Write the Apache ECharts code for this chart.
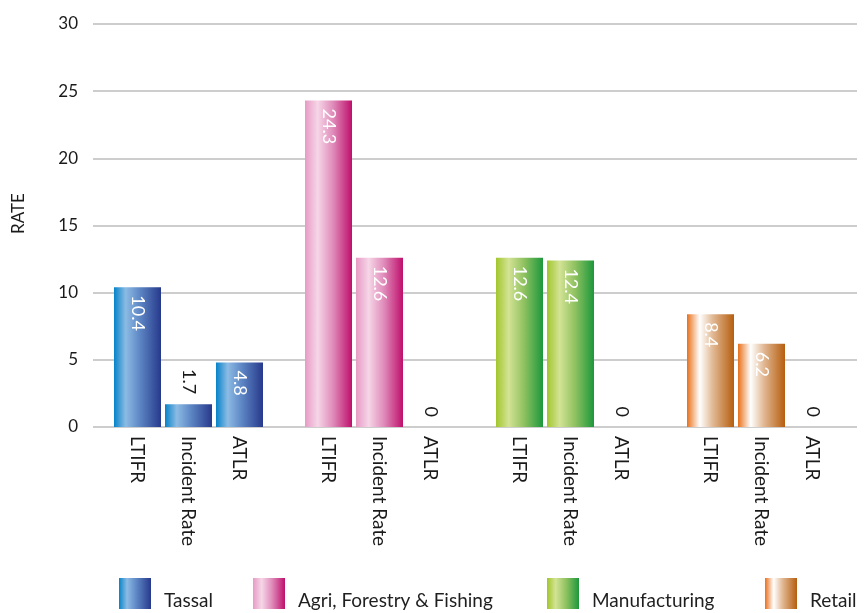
<!DOCTYPE html>
<html>
<head>
<meta charset="utf-8">
<script src="https://cdn.jsdelivr.net/npm/echarts@6/dist/echarts.min.js"></script>
<style>
  html, body { margin: 0; padding: 0; background: #ffffff; }
  #chart { width: 866px; height: 613px; }
</style>
</head>
<body>
<div id="chart"></div>
<script>
// Industry groups (legend) and the three safety metrics shown in each group
var groups = ['Tassal', 'Agri, Forestry & Fishing', 'Manufacturing', 'Retail'];
var metrics = ['LTIFR', 'Incident Rate', 'ATLR'];

// Rates per group, in metric order
var tassal = [10.4, 1.7, 4.8];
var agriForestryFishing = [24.3, 12.6, 0];
var manufacturing = [12.6, 12.4, 0];
var retail = [8.4, 6.2, 0];

// Y axis ticks
var yMin = 0, yMax = 30, yStep = 5;

var groupValues = [tassal, agriForestryFishing, manufacturing, retail];

// Horizontal gradient for each group (bright edge, light sheen, dark edge)
var gradientStops = [
  [['#0683c9', 0], ['#8cbbe4', 0.25], ['#5d86c4', 0.55], ['#27398c', 1]],
  [['#e79ac5', 0], ['#f6d6e7', 0.27], ['#df8ab9', 0.6], ['#bf0f6c', 1]],
  [['#a2c62c', 0], ['#d3e395', 0.27], ['#8fc160', 0.6], ['#1c983c', 1]],
  [['#e8701a', 0], ['#ffffff', 0.27], ['#e1b894', 0.55], ['#b65e0e', 1]]
];
function makeGradient(stops) {
  return new echarts.graphic.LinearGradient(0, 0, 1, 0,
    stops.map(function (s) { return { offset: s[1], color: s[0] }; }));
}

var FONT = 'Lato, "Open Sans", sans-serif';
var BAR_FRAC = 47 / 191;   // bar width as share of a group's band
var PITCH_FRAC = 51 / 191; // distance between neighbouring bars in a group

function renderBar(params, api) {
  var g = api.value(0), m = api.value(1), v = api.value(2);
  var base = api.coord([g, 0]);
  var top = api.coord([g, v]);
  var band = api.size([1, 0])[0];
  var w = band * BAR_FRAC;
  var cx = base[0] + (m - 1) * band * PITCH_FRAC;
  var h = base[1] - top[1];
  var label = String(v);
  var inside = h > 50;
  var children = [{
    type: 'rect',
    shape: { x: cx - w / 2, y: top[1], width: w, height: h },
    style: { fill: makeGradient(gradientStops[g]) }
  }, {
    type: 'text',
    x: cx,
    y: inside ? top[1] + 8 : top[1] - 10,
    rotation: -Math.PI / 2,
    style: {
      text: label,
      fill: inside ? '#ffffff' : '#1a1a1a',
      font: '18px ' + FONT,
      align: inside ? 'left' : 'right',
      verticalAlign: 'middle'
    }
  }];
  return { type: 'group', children: children };
}

var series = groups.map(function (name, gi) {
  return {
    name: name,
    type: 'custom',
    renderItem: renderBar,
    encode: { x: 0, y: 2 },
    itemStyle: { color: makeGradient(gradientStops[gi]) },
    data: groupValues[gi].map(function (v, mi) { return [gi, mi, v]; })
  };
});

var legendLefts = [119, 253, 547, 765];
var legends = groups.map(function (name, gi) {
  return {
    left: legendLefts[gi],
    top: 578,
    padding: 0,
    icon: 'rect',
    itemWidth: 32,
    itemHeight: 31,
    selectedMode: false,
    data: [{ name: name, itemStyle: { color: makeGradient(gradientStops[gi]) } }],
    formatter: function (n) { return '{t|' + n + '}'; },
    textStyle: {
      fontFamily: FONT, fontSize: 19, color: '#1f1f1f',
      rich: { t: { fontFamily: FONT, fontSize: 19, color: '#1f1f1f', padding: [14, 0, 0, 8] } }
    }
  };
});

var chart = echarts.init(document.getElementById('chart'), null, { renderer: 'canvas' });
chart.setOption({
  animation: false,
  backgroundColor: '#ffffff',
  grid: { left: 93, right: 9, top: 24, bottom: 186, containLabel: false },
  legend: legends,
  xAxis: {
    type: 'category',
    data: groups,
    boundaryGap: true,
    axisLine: { show: false },
    axisTick: { show: false },
    axisLabel: {
      interval: 0,
      rotate: -90,
      margin: 9,
      fontFamily: FONT,
      fontSize: 19,
      color: '#1a1a1a',
      lineHeight: 51,
      formatter: function () { return metrics.slice().reverse().join('\n'); }
    }
  },
  yAxis: {
    type: 'value',
    min: yMin,
    max: yMax,
    interval: yStep,
    name: 'RATE',
    nameLocation: 'middle',
    nameGap: 66,
    nameTextStyle: { fontFamily: FONT, fontSize: 17, color: '#1a1a1a', padding: [0, 0, 0, 24] },
    axisLine: { show: false },
    axisTick: { show: false },
    axisLabel: { fontFamily: FONT, fontSize: 17, color: '#1a1a1a', margin: 15 },
    splitLine: { lineStyle: { color: '#bdbdbd', width: 1.5 } }
  },
  series: series
});
</script>
</body>
</html>
